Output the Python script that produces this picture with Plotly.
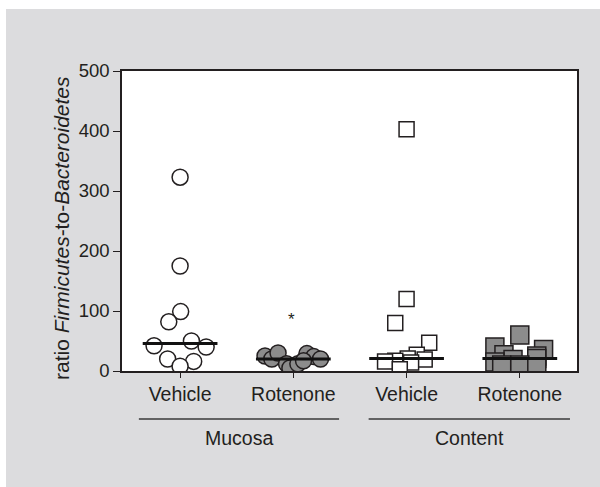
import numpy as np
import plotly.graph_objects as go

# Tick labels and group labels
categories = ["Vehicle", "Rotenone", "Vehicle", "Rotenone"]
groups = ["Mucosa", "Content"]
y_title = "ratio <i>Firmicutes</i>-to-<i>Bacteroidetes</i>"

# Firmicutes-to-Bacteroidetes ratio per animal, with horizontal jitter (category units)
mucosa_vehicle = [323, 175, 99, 82, 50, 42, 40, 20, 16, 8]
mucosa_vehicle_jit = [0.0, 0.0, 0.005, -0.10, 0.10, -0.23, 0.23, -0.11, 0.12, 0.0]

mucosa_rotenone = [25, 20, 30, 12, 5, 12, 29, 24, 20, 17]
mucosa_rotenone_jit = [-0.25, -0.19, -0.135, -0.06, -0.03, 0.04, 0.12, 0.18, 0.24, 0.09]

content_vehicle = [403, 120, 80, 47, 27, 21, 19, 17, 16, 14, 3]
content_vehicle_jit = [0.0, 0.0, -0.10, 0.20, 0.09, 0.01, 0.16, -0.10, -0.19, 0.04, -0.06]

content_rotenone = [60, 40, 36, 27, 25, 21, 19, 15, 10, 10, 7]
content_rotenone_jit = [0.0, -0.22, 0.21, -0.14, 0.15, 0.15, -0.06, -0.22, -0.16, 0.0, 0.15]

significance = ["", "*", "", ""]
significance_y = [None, 86, None, None]

INK = "#231f20"
GREY = "#8c8c8c"
FONT = "Liberation Sans, Arial, sans-serif"

series = [
    (mucosa_vehicle, mucosa_vehicle_jit, "circle", "white", 16),
    (mucosa_rotenone, mucosa_rotenone_jit, "circle", GREY, 16),
    (content_vehicle, content_vehicle_jit, "square", "white", 15),
    (content_rotenone, content_rotenone_jit, "square", GREY, 18),
]

fig = go.Figure()

for i, (vals, jit, sym, fill, size) in enumerate(series):
    xs = [i + j for j in jit]
    fig.add_trace(go.Scatter(
        x=xs, y=vals, mode="markers",
        marker=dict(symbol=sym, size=size, color=fill,
                    line=dict(color=INK, width=1.5)),
        showlegend=False, hoverinfo="y",
    ))

# Median bars
for i, (vals, *_rest) in enumerate(series):
    med = float(np.median(vals))
    fig.add_trace(go.Scatter(
        x=[i - 0.33, i + 0.33], y=[med, med], mode="lines",
        line=dict(color="#111111", width=3), showlegend=False, hoverinfo="skip",
    ))

# Significance marks
for i, s in enumerate(significance):
    if s:
        fig.add_annotation(x=i - 0.02, y=significance_y[i], text=s,
                           showarrow=False, font=dict(size=17, color=INK, family=FONT))

# White frame strips along the top and left of the grey page
fig.add_shape(type="rect", xref="paper", yref="paper",
              x0=-0.4, x1=1.2, y0=(371 - 9) / 300, y1=1.5,
              fillcolor="white", line=dict(width=0), layer="below")
fig.add_shape(type="rect", xref="paper", yref="paper",
              x0=-0.4, x1=(6 - 122) / 455, y0=-0.5, y1=1.5,
              fillcolor="white", line=dict(width=0), layer="below")

# Rotated y-axis title
fig.add_annotation(x=(62 - 122) / 455, y=0.477, xref="paper", yref="paper",
                   text=y_title, textangle=-90, showarrow=False,
                   xanchor="center", yanchor="middle",
                   font=dict(size=21, color=INK, family=FONT))

# Group underlines and labels
group_spans = [(-0.364, 1.404), (1.665, 3.443)]
for name, (a, b) in zip(groups, group_spans):
    fig.add_shape(type="line", xref="x", yref="paper", x0=a, x1=b, y0=-0.16, y1=-0.16,
                  line=dict(color="#3a3a3a", width=1.5))
    fig.add_annotation(x=(a + b) / 2, y=-0.223, xref="x", yref="paper",
                       text=name, showarrow=False, yanchor="middle",
                       font=dict(size=19.5, color=INK, family=FONT))

fig.update_layout(
    width=600, height=487,
    margin=dict(l=122, r=23, t=71, b=116),
    paper_bgcolor="#dcdcde", plot_bgcolor="white",
    font=dict(family=FONT, size=19.5, color=INK),
    xaxis=dict(
        range=[-0.513, 3.505], tickmode="array", tickvals=[0, 1, 2, 3],
        ticktext=categories, ticks="outside", ticklen=5, tickwidth=1.2,
        tickcolor=INK, showline=True, linecolor=INK, linewidth=1.5, mirror=True,
        showgrid=False, zeroline=False, tickfont=dict(size=19.5),
    ),
    yaxis=dict(
        range=[0, 500], tickvals=[0, 100, 200, 300, 400, 500],
        ticks="outside", ticklen=7, tickwidth=1.2, tickcolor=INK,
        showline=True, linecolor=INK, linewidth=1.5, mirror=True,
        showgrid=False, zeroline=False, tickfont=dict(size=18.5),
    ),
)

fig.write_html("out.html")
